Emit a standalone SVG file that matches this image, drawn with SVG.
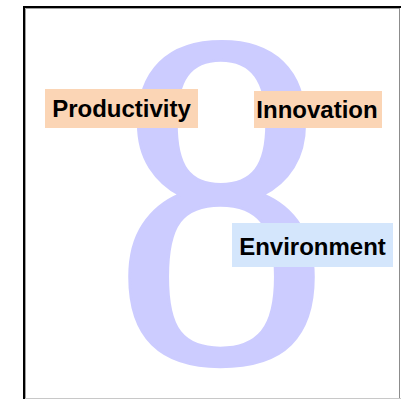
<svg xmlns="http://www.w3.org/2000/svg" width="401" height="399" viewBox="0 0 401 399">
  <style>
    .lbl { font-family: "Liberation Sans", Arial, sans-serif; font-weight: bold; font-size: 24px; fill: #000; }
    .peach { fill: #fbd5b5; }
    .blue { fill: #d4e6fc; }
    .eight { font-family: "Liberation Serif", "Times New Roman", serif; font-size: 482px; fill: #ccccff; stroke: #ccccff; stroke-width: 3; stroke-linejoin: round; }
  </style>
  <rect x="0" y="0" width="401" height="399" fill="#ffffff"/>
  <g id="frame">
    <line x1="25.5" y1="8.5" x2="399.5" y2="8.5" stroke="#a0a0a0" stroke-width="1"/>
    <line x1="25.5" y1="8.5" x2="25.5" y2="399" stroke="#a0a0a0" stroke-width="1"/>
    <line x1="399.5" y1="8" x2="399.5" y2="399" stroke="#8c8c8c" stroke-width="1"/>
    <line x1="24" y1="398.5" x2="401" y2="398.5" stroke="#c8c8c8" stroke-width="1"/>
    <line x1="23" y1="7" x2="401" y2="7" stroke="#000000" stroke-width="2"/>
    <line x1="24" y1="6" x2="24" y2="399" stroke="#000000" stroke-width="2"/>
  </g>
  <g id="figure-eight">
    <text class="eight" transform="translate(221.5,0) scale(0.9,1)" x="0" y="362" text-anchor="middle">8</text>
  </g>
  <g id="connectors"></g>
  <g id="productivity">
    <rect class="peach" x="45" y="89" width="153" height="39"/>
    <text class="lbl" x="121.5" y="117" text-anchor="middle">Productivity</text>
  </g>
  <g id="innovation">
    <rect class="peach" x="254" y="91" width="128" height="37"/>
    <text class="lbl" x="317" y="117.5" text-anchor="middle">Innovation</text>
  </g>
  <g id="environment">
    <rect class="blue" x="232" y="223" width="161" height="44"/>
    <text class="lbl" x="312.5" y="254.5" text-anchor="middle">Environment</text>
  </g>
</svg>
